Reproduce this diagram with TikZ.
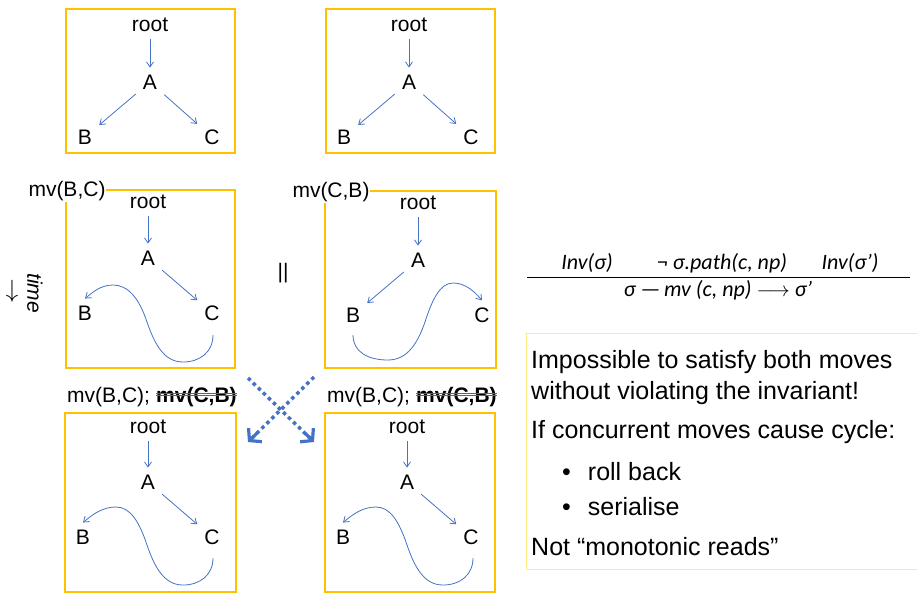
\documentclass[tikz,border=0pt]{standalone}
\usepackage{fontspec}
\setmainfont{Liberation Sans}
\newfontfamily\calfont{Carlito}
\usetikzlibrary{arrows.meta,positioning}
\definecolor{boxorange}{RGB}{255,192,0}
\definecolor{edgeblue}{RGB}{68,114,196}
\definecolor{noteyellow}{RGB}{255,236,130}
\definecolor{strikered}{RGB}{232,45,30}

\begin{document}
\begin{tikzpicture}[x=1pt, y=-1pt,
  >={Straight Barb[length=5pt,width=7pt]},
  every node/.style={font=\fontsize{21}{25}\selectfont, inner sep=0pt},
  tnode/.style={inner sep=7pt},
  frame/.style={draw=boxorange, line width=2pt},
  edge/.style={->, draw=edgeblue, line width=0.8pt},
  mvlabel/.style={fill=white, inner sep=1pt},
  strike/.style={draw=strikered, line width=0.6pt},
  swap/.style={draw=edgeblue, line width=3.5pt, dash pattern=on 3.5pt off 3.5pt, shorten >=3pt,
    postaction={draw=edgeblue, solid, line width=3.2pt, shorten <=80pt, shorten >=0pt,
      -{Straight Barb[length=8pt,width=19pt]}}},
  note/.style={anchor=west, font=\fontsize{25}{29}\selectfont},
  rule/.style={font=\calfont\itshape\fontsize{22}{26}\selectfont},
]
\useasboundingbox (0,0) rectangle (917,595);

% ---- top row: the initial tree, twice ----
\draw[frame] (66,9) rectangle (235,153);
\node[tnode] (r1) at (150,25)  {root};
\node[tnode] (a1) at (150,82)  {A};
\node[tnode] (b1) at (85,137)  {B};
\node[tnode] (c1) at (212,137) {C};
\draw[edge] (r1) -- (a1);
\draw[edge] (a1) -- (b1);
\draw[edge] (a1) -- (c1);

\draw[frame] (326,9) rectangle (495,153);
\node[tnode] (r2) at (409,25)  {root};
\node[tnode] (a2) at (409,82)  {A};
\node[tnode] (b2) at (344,137) {B};
\node[tnode] (c2) at (471,137) {C};
\draw[edge] (r2) -- (a2);
\draw[edge] (a2) -- (b2);
\draw[edge] (a2) -- (c2);

% ---- middle row: the two concurrent moves ----
\draw[frame] (66,190) rectangle (235,368);
\node[mvlabel] (m3) at (67,191) {mv(B,C)};
\node[tnode] (r3) at (148,202) {root};
\node[tnode] (a3) at (148,258) {A};
\node[tnode] (b3) at (85,313)  {B};
\node[tnode] (c3) at (212,313) {C};
\coordinate (t3) at (213,335);
\draw[edge] (r3) -- (a3);
\draw[edge] (a3) -- (c3);
\draw[edge] (t3) .. controls (213,352) and (200,362) .. (183,362)
  .. controls (163,362) and (154,342) .. (147,322)
  .. controls (139,298) and (128,285) .. (113,285)
  .. controls (101,285) and (93,292) .. (b3.north);

\draw[frame] (325,191) rectangle (496,368);
\node[mvlabel] (m4) at (331,192) {mv(C,B)};
\node[tnode] (r4) at (418,203) {root};
\node[tnode] (a4) at (418,260) {A};
\node[tnode] (b4) at (353,315) {B};
\node[tnode] (c4) at (482,315) {C};
\coordinate (t4) at (353,335);
\draw[edge] (r4) -- (a4);
\draw[edge] (a4) -- (b4);
\draw[edge] (t4) .. controls (353,352) and (368,360) .. (388,360)
  .. controls (408,360) and (418,342) .. (425,322)
  .. controls (432,300) and (440,283) .. (453,283)
  .. controls (465,283) and (474,291) .. (c4.north);

\node (par) at (283,273) {||};
\node[font=\fontsize{24}{28}\selectfont] (tarrow) at (12,291) {$\downarrow$};
\node[rotate=-90, font=\fontsize{21}{25}\selectfont\itshape] (time) at (35,293) {time};

% ---- bottom row: both replicas end up the same ----
\node[anchor=base west] (l5a) at (67,402) {mv(B,C);};
\node[anchor=base west, font=\fontsize{21}{25}\selectfont\bfseries, xshift=5.8pt] (l5b) at (l5a.base east) {mv(C,B)};
\draw[strike] ([yshift=3.3pt]l5b.west) -- ([yshift=3.3pt]l5b.east);
\draw[strike] ([yshift=0.9pt]l5b.west) -- ([yshift=0.9pt]l5b.east);

\node[anchor=base west] (l6a) at (327,402) {mv(B,C);};
\node[anchor=base west, font=\fontsize{21}{25}\selectfont\bfseries, xshift=5.8pt] (l6b) at (l6a.base east) {mv(C,B)};
\draw[strike] ([yshift=3.3pt]l6b.west) -- ([yshift=3.3pt]l6b.east);
\draw[strike] ([yshift=0.9pt]l6b.west) -- ([yshift=0.9pt]l6b.east);

\coordinate (s1) at (248,378);
\coordinate (e1) at (314,442);
\coordinate (s2) at (314,377);
\coordinate (e2) at (248,442);
\draw[swap] (s1) -- (e1);
\draw[swap] (s2) -- (e2);

\draw[frame] (65,413) rectangle (236,592);
\node[tnode] (r5) at (148,427) {root};
\node[tnode] (a5) at (148,482) {A};
\node[tnode] (b5) at (83,537)  {B};
\node[tnode] (c5) at (212,537) {C};
\coordinate (t5) at (213,558);
\draw[edge] (r5) -- (a5);
\draw[edge] (a5) -- (c5);
\draw[edge] (t5) .. controls (213,575) and (200,585) .. (183,585)
  .. controls (163,585) and (154,565) .. (147,545)
  .. controls (139,521) and (130,507) .. (116,507)
  .. controls (103,507) and (93,514) .. (b5.north);

\draw[frame] (325,413) rectangle (495,592);
\node[tnode] (r6) at (407,427) {root};
\node[tnode] (a6) at (407,482) {A};
\node[tnode] (b6) at (343,537) {B};
\node[tnode] (c6) at (471,537) {C};
\coordinate (t6) at (473,558);
\draw[edge] (r6) -- (a6);
\draw[edge] (a6) -- (c6);
\draw[edge] (t6) .. controls (473,575) and (460,585) .. (443,585)
  .. controls (423,585) and (414,565) .. (407,545)
  .. controls (399,521) and (390,507) .. (376,507)
  .. controls (363,507) and (353,514) .. (b6.north);

% ---- the move rule ----
\node[rule] (inv1) at (587,263) {Inv(σ)};
\node[rule] (path) at (722,263) {¬ σ.path(c, np)};
\node[rule] (inv2) at (850,263) {Inv(σ’)};
\draw[line width=1pt] (527,277) -- (910,277);
\node[rule] (step) at (718,290) {σ —\,mv (c, np) $\longrightarrow$ σ’};

% ---- note ----
\draw[draw=noteyellow, line width=1pt] (917,333) -- (526,333) -- (526,569) -- (917,569);
\node[note] (n1) at (531,362) {Impossible to satisfy both moves};
\node[note] (n2) at (531,393) {without violating the invariant!};
\node[note] (n3) at (531,432) {If concurrent moves cause cycle:};
\node[note] (n4) at (562,472) {•\hspace{17pt}roll back};
\node[note] (n5) at (562,507) {•\hspace{17pt}serialise};
\node[note] (n6) at (531,547) {Not “monotonic reads”};

\end{tikzpicture}
\end{document}
